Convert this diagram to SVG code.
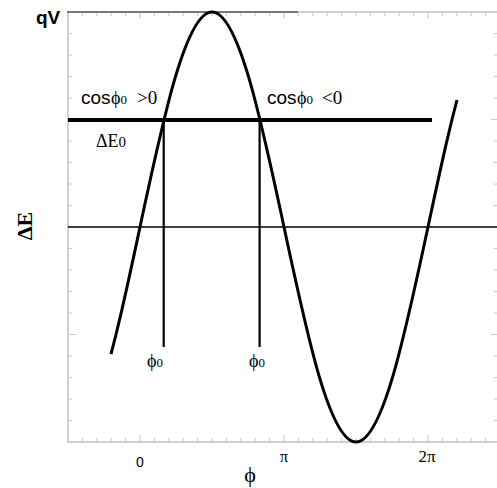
<svg xmlns="http://www.w3.org/2000/svg" width="497" height="488" viewBox="0 0 497 488">
<style>
.ax{stroke:#d0d0d0;stroke-width:2;fill:none}
.tk{stroke:#c8c8c8;stroke-width:1;fill:none}
.sans{font-family:"Liberation Sans",Arial,sans-serif}
.ser{font-family:"Liberation Serif","Times New Roman","DejaVu Serif",serif}
text{fill:#000}
</style>
<rect width="497" height="488" fill="#fff"/>
<g id="frame">
<path class="ax" d="M68,12 V442 M67,442 H497 M68,12 H497"/>
<path class="tk" d="M68,33.5h4M68,55h4M68,76.5h4M68,98h4M68,119.5h8M68,141h4M68,162.5h4M68,184h4M68,205.5h4M68,227h8M68,248.5h4M68,270h4M68,291.5h4M68,313h4M68,334.5h8M68,356h4M68,377.5h4M68,399h4M68,420.5h4"/>
<path class="tk" d="M497,33.5h-3M497,55h-3M497,76.5h-3M497,98h-3M497,119.5h-6M497,141h-3M497,162.5h-3M497,184h-3M497,205.5h-3M497,248.5h-3M497,270h-3M497,291.5h-3M497,313h-3M497,334.5h-6M497,356h-3M497,377.5h-3M497,399h-3M497,420.5h-3"/>
<path class="tk" d="M82.4,442v-4M96.8,442v-4M111.2,442v-4M125.6,442v-4M140,442v-7M154.4,442v-4M168.8,442v-4M183.2,442v-4M197.6,442v-4M212,442v-4M226.4,442v-4M240.8,442v-4M255.2,442v-4M269.6,442v-4M284,442v-7M298.4,442v-4M312.8,442v-4M327.2,442v-4M341.6,442v-4M356,442v-4M370.4,442v-4M384.8,442v-4M399.2,442v-4M413.6,442v-4M428,442v-7M442.4,442v-4M456.8,442v-4M471.2,442v-4M485.6,442v-4"/>
<path class="tk" d="M82.4,12v4M96.8,12v4M111.2,12v4M125.6,12v4M140,12v7M154.4,12v4M168.8,12v4M183.2,12v4M197.6,12v4M212,12v4M226.4,12v4M240.8,12v4M255.2,12v4M269.6,12v4M284,12v7M298.4,12v4M312.8,12v4M327.2,12v4M341.6,12v4M356,12v4M370.4,12v4M384.8,12v4M399.2,12v4M413.6,12v4M428,12v7M442.4,12v4M456.8,12v4M471.2,12v4M485.6,12v4"/>
</g>
<g id="connectors">
<line x1="67" y1="12" x2="298" y2="12" stroke="#777" stroke-width="2.2"/>
<line x1="68" y1="227" x2="497" y2="227" stroke="#000" stroke-width="1.3"/>
<line x1="68" y1="120" x2="432" y2="120" stroke="#000" stroke-width="4"/>
<line x1="163.7" y1="120" x2="163.7" y2="347" stroke="#000" stroke-width="2.2"/>
<line x1="259.6" y1="120" x2="259.6" y2="347" stroke="#000" stroke-width="2.2"/>
<path id="curve" fill="none" stroke="#000" stroke-width="3" d="M111,354.2 L116,334.5 L122,309.3 L128,282.6 L134,255.1 L140,227 C163.48,116.86 185.94,12 212,12 C238.06,12 260.52,116.86 284,227 C307.48,337.14 329.94,442 356,442 C382.06,442 404.52,337.14 428,227 L434,198.9 L440,171.4 L446,144.7 L452,119.5 L457,100"/>
</g>
<g id="labels">
<text class="sans" x="36" y="24" font-size="19" font-weight="bold">qV</text>
<text class="ser" font-size="22" font-weight="bold" text-anchor="middle" transform="translate(32,226) rotate(-90)">ΔE</text>
<text y="104"><tspan class="sans" x="81" font-size="19">cos</tspan><tspan class="ser" x="111" font-size="18">ϕ</tspan><tspan class="ser" font-size="13">0</tspan><tspan class="ser" x="137" font-size="19">&gt;0</tspan></text>
<text y="104"><tspan class="sans" x="267" font-size="19">cos</tspan><tspan class="ser" x="297" font-size="18">ϕ</tspan><tspan class="ser" font-size="13">0</tspan><tspan class="ser" x="322" font-size="19">&lt;0</tspan></text>
<text class="ser" x="96" y="147" font-size="18">ΔE<tspan font-size="15">0</tspan></text>
<text class="ser" x="147" y="367" font-size="18">ϕ<tspan font-size="13">0</tspan></text>
<text class="ser" x="249" y="367" font-size="18">ϕ<tspan font-size="13">0</tspan></text>
<text class="sans" x="140" y="467" font-size="14" text-anchor="middle">0</text>
<text class="ser" x="284" y="462" font-size="16" text-anchor="middle">π</text>
<text class="ser" x="427" y="462" font-size="17" text-anchor="middle">2π</text>
<text class="ser" x="250" y="482" font-size="22" text-anchor="middle">ϕ</text>
</g>
</svg>
